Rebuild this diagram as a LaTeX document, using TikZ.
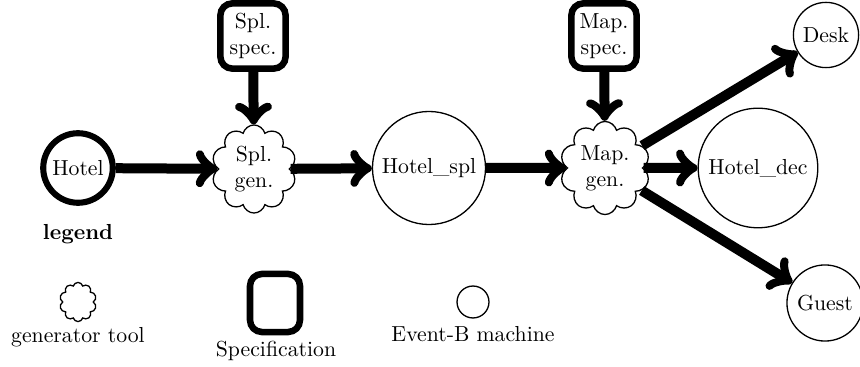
\documentclass[tikz,border=0pt]{standalone}
\usetikzlibrary{shapes.symbols}
\begin{document}
\begin{tikzpicture}[x=0.46pt,y=-0.46pt,
  machine/.style={circle,draw,line width=0.6pt,inner sep=0pt},
  inmachine/.style={circle,draw,line width=2.8pt,inner sep=0pt},
  specbox/.style={draw,rounded corners=5.5pt,line width=3pt,inner sep=0pt,align=center,minimum width=30pt,minimum height=30pt},
  gentool/.style={cloud,cloud puffs=10,draw,line width=0.6pt,inner sep=0pt,align=center},
  flow/.style={line width=4.6pt,-to},
  lbl/.style={inner sep=0pt,anchor=base}]
\useasboundingbox (0,0) rectangle (860,367);
\node[inmachine,minimum size=32pt] (hotel) at (78,168) {Hotel};
\node[specbox] (splspec) at (253,36) {Spl.\\spec.};
\node[gentool,minimum width=39pt,minimum height=40.5pt] (splgen) at (254,169) {Spl.\\gen.};
\node[machine,minimum size=52pt] (hotelspl) at (429,168) {Hotel\_spl};
\node[specbox] (mapspec) at (604,36) {Map.\\spec.};
\node[gentool,minimum width=41.4pt,minimum height=42.8pt] (mapgen) at (605,168) {Map.\\gen.};
\node[machine,minimum size=55pt] (hoteldec) at (758,168) {Hotel\_dec};
\node[machine,minimum size=30pt] (desk) at (826,35) {Desk};
\node[machine,minimum size=35pt] (guest) at (825,303) {Guest};
\draw[flow] (hotel) -- (splgen);
\draw[flow] (splspec) -- (splgen);
\draw[flow] (splgen) -- (hotelspl);
\draw[flow] (hotelspl) -- (mapgen);
\draw[flow] (mapspec) -- (mapgen);
\draw[flow] (mapgen) -- (hoteldec);
\draw[flow] (mapgen) -- (desk);
\draw[flow] (mapgen) -- (guest);
% legend
\node[lbl] (legend) at (78,240) {\textbf{legend}};
\node[gentool,minimum width=17pt,minimum height=18pt] (lgen) at (78,302) {};
\node[lbl] (lgentext) at (78,343) {generator tool};
\node[specbox,minimum width=23pt,minimum height=26.7pt] (lspec) at (275,303) {};
\node[lbl] (lspectext) at (276,357) {Specification};
\node[machine,minimum size=14.7pt] (lmach) at (473,302) {};
\node[lbl] (lmachtext) at (473,342) {Event-B machine};
\end{tikzpicture}
\end{document}
